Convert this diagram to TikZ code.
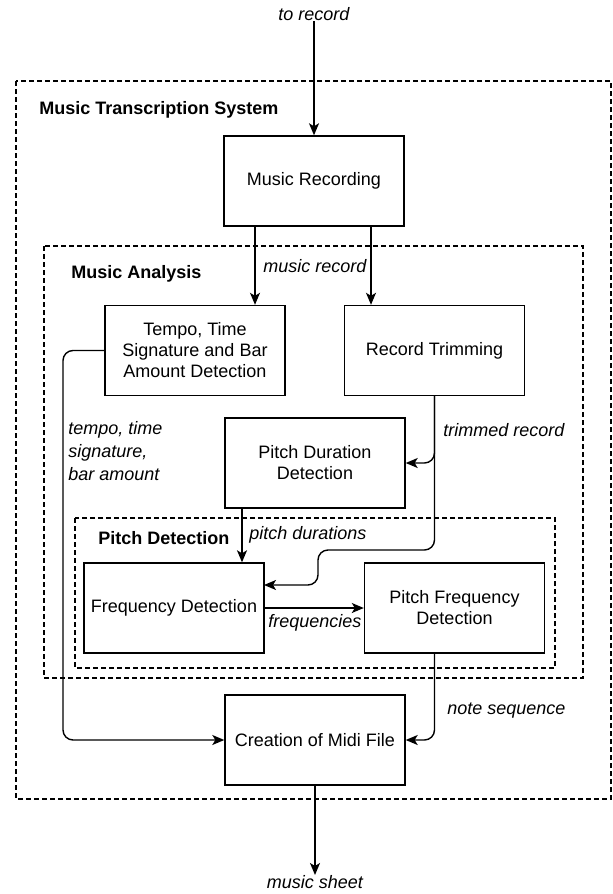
\documentclass[tikz,border=0pt]{standalone}
\usepackage{fontspec}
\setmainfont{Liberation Sans}
\usetikzlibrary{arrows.meta}
\tikzset{
    block/.style={draw=black, line width=0.7pt, minimum width=90pt, minimum height=45pt,
        align=center, inner sep=2pt, font=\fontsize{9}{10.5}\selectfont},
    lbl/.style={anchor=west, inner sep=0pt, align=left, font=\fontsize{9}{11.5}\selectfont\itshape},
    head/.style={anchor=west, inner sep=0pt, font=\fontsize{9}{11}\selectfont\bfseries},
    area/.style={draw=black, line width=0.6pt, dash pattern=on 2.5pt off 1.5pt},
    flow/.style={draw=black, line width=0.7pt, rounded corners=5pt,
        -{Stealth[length=6pt, width=5pt, inset=1.5pt]}}}

\begin{document}
\begin{tikzpicture}[x=0.5pt, y=-0.5pt]

        \useasboundingbox (0,0) rectangle (613,894);

            % dashed areas
            \draw[area] (16,81) rectangle (611,799);
            \draw[area] (44,246) rectangle (583,678);
            \draw[area] (75,518) rectangle (555,668);
            \node[head] (sys) at (39,110) {Music Transcription System};
            \node[head] (ana) at (71,274) {Music Analysis};
            \node[head] (det) at (98,538) {Pitch Detection};

            \node[lbl, anchor=center] (in) at (314,14) {to record};
            \node[lbl, anchor=center] (out) at (315,882) {music sheet};

            \node[block] (rec) at (314,181) {Music Recording};
            \node[block] (tempo) at (195,350.5) {Tempo, Time\\Signature and Bar\\Amount Detection};
            \node[block] (trim) at (434.5,350.5) {Record Trimming};
            \node[block] (dur) at (315,463) {Pitch Duration\\Detection};
            \node[block] (freq) at (174,608) {Frequency Detection};
            \node[block] (pfreq) at (454.5,608) {Pitch Frequency\\Detection};
            \node[block] (midi) at (315,740) {Creation of Midi File};

            \coordinate (tbend) at (63,545);
            \coordinate (jog) at (318,550);
            \coordinate (fin) at (264,585);

            \draw[flow] (in) -- (rec);
            \draw[flow] ([xshift=-29.5pt]rec.south) -- ([xshift=-29.5pt]rec.south |- tempo.north);
            \draw[flow] ([xshift=28.5pt]rec.south) -- ([xshift=28.5pt]rec.south |- trim.north);
            \draw[flow] (trim.south) |- (dur.east);
            \draw[flow] (trim.south) |- (jog) |- (fin);
            \draw[flow] ([xshift=-36.5pt]dur.south) -- ([xshift=-36.5pt]dur.south |- freq.north);
            \draw[flow] (freq.east) -- (pfreq.west);
            \draw[flow] (pfreq.south -| trim.south) |- (midi.east);
            \draw[flow] (tempo.west) -| (tbend) |- (midi.west);
            \draw[flow] (midi) -- (out);

            \node[lbl] (l1) at (263,266) {music record};
            \node[lbl] (l2) at (443,430) {trimmed record};
            \node[lbl] (l3) at (249,535) {pitch durations};
            \node[lbl] (l4) at (268,623) {frequencies};
            \node[lbl] (l5) at (447,711) {note sequence};
            \node[lbl] (l6) at (68,451) {tempo, time\\signature,\\bar amount};

        \end{tikzpicture}
\end{document}
